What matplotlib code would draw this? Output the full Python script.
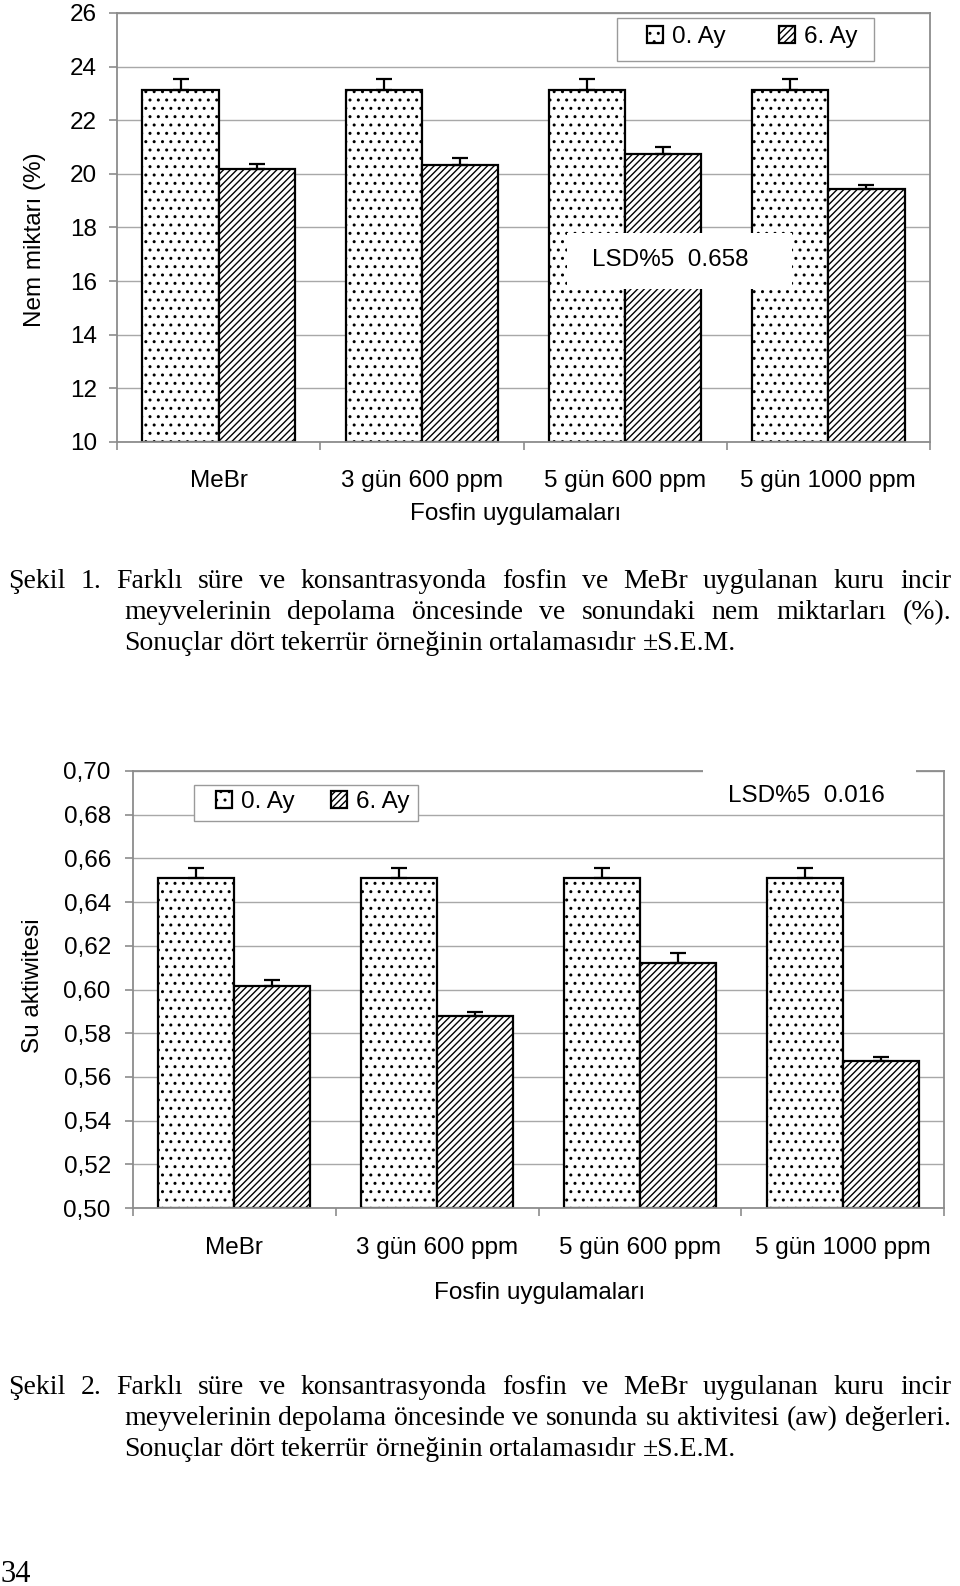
import matplotlib
matplotlib.use('Agg')
import matplotlib.pyplot as plt
import numpy as np
from matplotlib.patches import Rectangle
from matplotlib.ticker import FuncFormatter

W, H = 960, 1586

categories = ['MeBr', '3 gün 600 ppm', '5 gün 600 ppm', '5 gün 1000 ppm']
series = ['0. Ay', '6. Ay']

# Nem miktari (%)
nem_0 = [23.13, 23.13, 23.13, 23.13]
nem_0_err = [0.40, 0.40, 0.40, 0.40]
nem_6 = [20.19, 20.34, 20.74, 19.43]
nem_6_err = [0.16, 0.24, 0.25, 0.16]
nem_ticks = [10, 12, 14, 16, 18, 20, 22, 24, 26]

# Su aktivitesi
aw_0 = [0.651, 0.651, 0.651, 0.651]
aw_0_err = [0.0045, 0.0045, 0.0045, 0.0045]
aw_6 = [0.6015, 0.588, 0.612, 0.5673]
aw_6_err = [0.0027, 0.0015, 0.0045, 0.0018]
aw_ticks = [0.50, 0.52, 0.54, 0.56, 0.58, 0.60, 0.62, 0.64, 0.66, 0.68, 0.70]

caption1 = ["Şekil 1. Farklı süre ve konsantrasyonda fosfin ve MeBr uygulanan kuru incir",
            "meyvelerinin depolama öncesinde ve sonundaki nem miktarları (%).",
            "Sonuçlar dört tekerrür örneğinin ortalamasıdır ±S.E.M."]
caption2 = ["Şekil 2. Farklı süre ve konsantrasyonda fosfin ve MeBr uygulanan kuru incir",
            "meyvelerinin depolama öncesinde ve sonunda su aktivitesi (aw) değerleri.",
            "Sonuçlar dört tekerrür örneğinin ortalamasıdır ±S.E.M."]

plt.rcParams['font.family'] = ['Liberation Sans', 'DejaVu Sans']
plt.rcParams['font.size'] = 17.5
plt.rcParams['hatch.linewidth'] = 1.0

GRAY = '#8c8c8c'

fig = plt.figure(figsize=(W / 100, H / 100), dpi=100)


def px_rect(x0, y0, x1, y1):
    return [x0 / W, 1 - y1 / H, (x1 - x0) / W, (y1 - y0) / H]


def fx(x):
    return x / W


def fy(y):
    return 1 - y / H


def draw_chart(ax, v0, e0, v6, e6, yticks, fmt, tick_pad, xpad):
    x = np.arange(len(categories))
    w = 0.375
    base = yticks[0]
    b0 = ax.bar(x - w / 2, np.array(v0) - base, w, bottom=base, facecolor='white',
                edgecolor='black', linewidth=1.6, hatch='..', zorder=2)
    b6 = ax.bar(x + w / 2, np.array(v6) - base, w, bottom=base, facecolor='white',
                edgecolor='black', linewidth=1.6, hatch='/////', zorder=2)
    for xs, v, e in [(x - w / 2, v0, e0), (x + w / 2, v6, e6)]:
        ax.errorbar(xs, v, yerr=[np.zeros(len(e)), e], fmt='none', ecolor='black',
                    elinewidth=1.6, capsize=6, capthick=1.6, zorder=3)
    ax.set_xlim(-0.5, 3.5)
    ax.set_ylim(yticks[0], yticks[-1])
    ax.set_yticks(yticks)
    ax.yaxis.set_major_formatter(fmt)
    ax.set_xticks(x)
    ax.set_xticklabels(categories)
    ax.set_xticks(np.arange(-0.5, 4, 1), minor=True)
    ax.tick_params(axis='x', which='major', length=0, pad=xpad)
    ax.tick_params(axis='x', which='minor', length=6, direction='out', color=GRAY, width=1.2)
    ax.tick_params(axis='y', length=6, direction='out', color=GRAY, width=1.2, pad=tick_pad)
    ax.yaxis.grid(True, color='#a8a8a8', linewidth=1.0)
    ax.set_axisbelow(True)
    for s in ax.spines.values():
        s.set_color(GRAY)
        s.set_linewidth(1.3)
    return b0, b6


def legend_box(ax, bars, frame, anchor, colsp):
    x0, y0, x1, y1 = frame
    ax.add_patch(Rectangle((fx(x0), fy(y1)), (x1 - x0) / W, (y1 - y0) / H,
                           transform=fig.transFigure, facecolor='white', edgecolor='#9a9a9a',
                           linewidth=1.0, clip_on=False, zorder=4.5))
    ax.legend(bars, series, loc='center left', bbox_to_anchor=(fx(anchor[0]), fy(anchor[1])),
              bbox_transform=fig.transFigure, frameon=False, ncol=2, handlelength=0.65,
              handleheight=0.65, handletextpad=0.37, columnspacing=colsp, borderpad=0,
              borderaxespad=0, fontsize=17.5)


def lsd_box(ax, box, text, pos):
    x0, y0, x1, y1 = box
    ax.add_patch(Rectangle((fx(x0), fy(y1)), (x1 - x0) / W, (y1 - y0) / H,
                           transform=fig.transFigure, facecolor='white', edgecolor='none',
                           clip_on=False, zorder=6))
    ax.text(fx(pos[0]), fy(pos[1]), text, transform=fig.transFigure, ha='center',
            va='center', fontsize=17.5, zorder=7, clip_on=False)


# chart 1
ax1 = fig.add_axes(px_rect(117, 13, 930, 442))
bars1 = draw_chart(ax1, nem_0, nem_0_err, nem_6, nem_6_err, nem_ticks,
                   FuncFormatter(lambda v, p: f'{v:.0f}'), 8.5, 20)
legend_box(ax1, bars1, (617, 18, 874, 61), (647, 37), 2.2)
lsd_box(ax1, (567, 233, 792, 289), 'LSD%5  0.658', (670, 260))
fig.text(fx(516), fy(514), 'Fosfin uygulamaları', ha='center', va='center', fontsize=17.5)
fig.text(fx(35), fy(240), 'Nem miktarı (%)', ha='center', va='center', rotation=90, fontsize=17.5)

# chart 2
ax2 = fig.add_axes(px_rect(133, 771, 944, 1208))
bars2 = draw_chart(ax2, aw_0, aw_0_err, aw_6, aw_6_err, aw_ticks,
                   FuncFormatter(lambda v, p: f'{v:.2f}'.replace('.', ',')), 10, 21)
legend_box(ax2, bars2, (194, 785, 418, 821), (216, 802), 1.5)
lsd_box(ax2, (703, 762, 916, 814), 'LSD%5  0.016', (806, 796))
fig.text(fx(540), fy(1293), 'Fosfin uygulamaları', ha='center', va='center', fontsize=17.5)
fig.text(fx(33), fy(986), 'Su aktiwitesi', ha='center', va='center', rotation=90, fontsize=17.5)

# captions (justified like the page)
CAP_SIZE = 20
renderer = fig.canvas.get_renderer()


def put_line(text, x0, x1, y, justify):
    words = text.split(' ')
    arts = [fig.text(0, fy(y), w, fontsize=CAP_SIZE, family='Liberation Serif',
                     va='baseline') for w in words]
    widths = [a.get_window_extent(renderer).width for a in arts]
    if justify:
        gap = (x1 - x0 - sum(widths)) / (len(words) - 1)
    else:
        gap = 0.25 * CAP_SIZE * 100 / 72
    x = x0
    for a, wd in zip(arts, widths):
        a.set_x(fx(x))
        x += wd + gap


for cap, ys in [(caption1, (588, 619, 650)), (caption2, (1394, 1425, 1456))]:
    put_line(cap[0], 8, 951, ys[0], True)
    put_line(cap[1], 124, 951, ys[1], True)
    put_line(cap[2], 124, 951, ys[2], False)

fig.text(fx(1), fy(1582), '34', family='Liberation Serif', fontsize=22, va='baseline')

fig.savefig('out.png', dpi=100, facecolor='white')
